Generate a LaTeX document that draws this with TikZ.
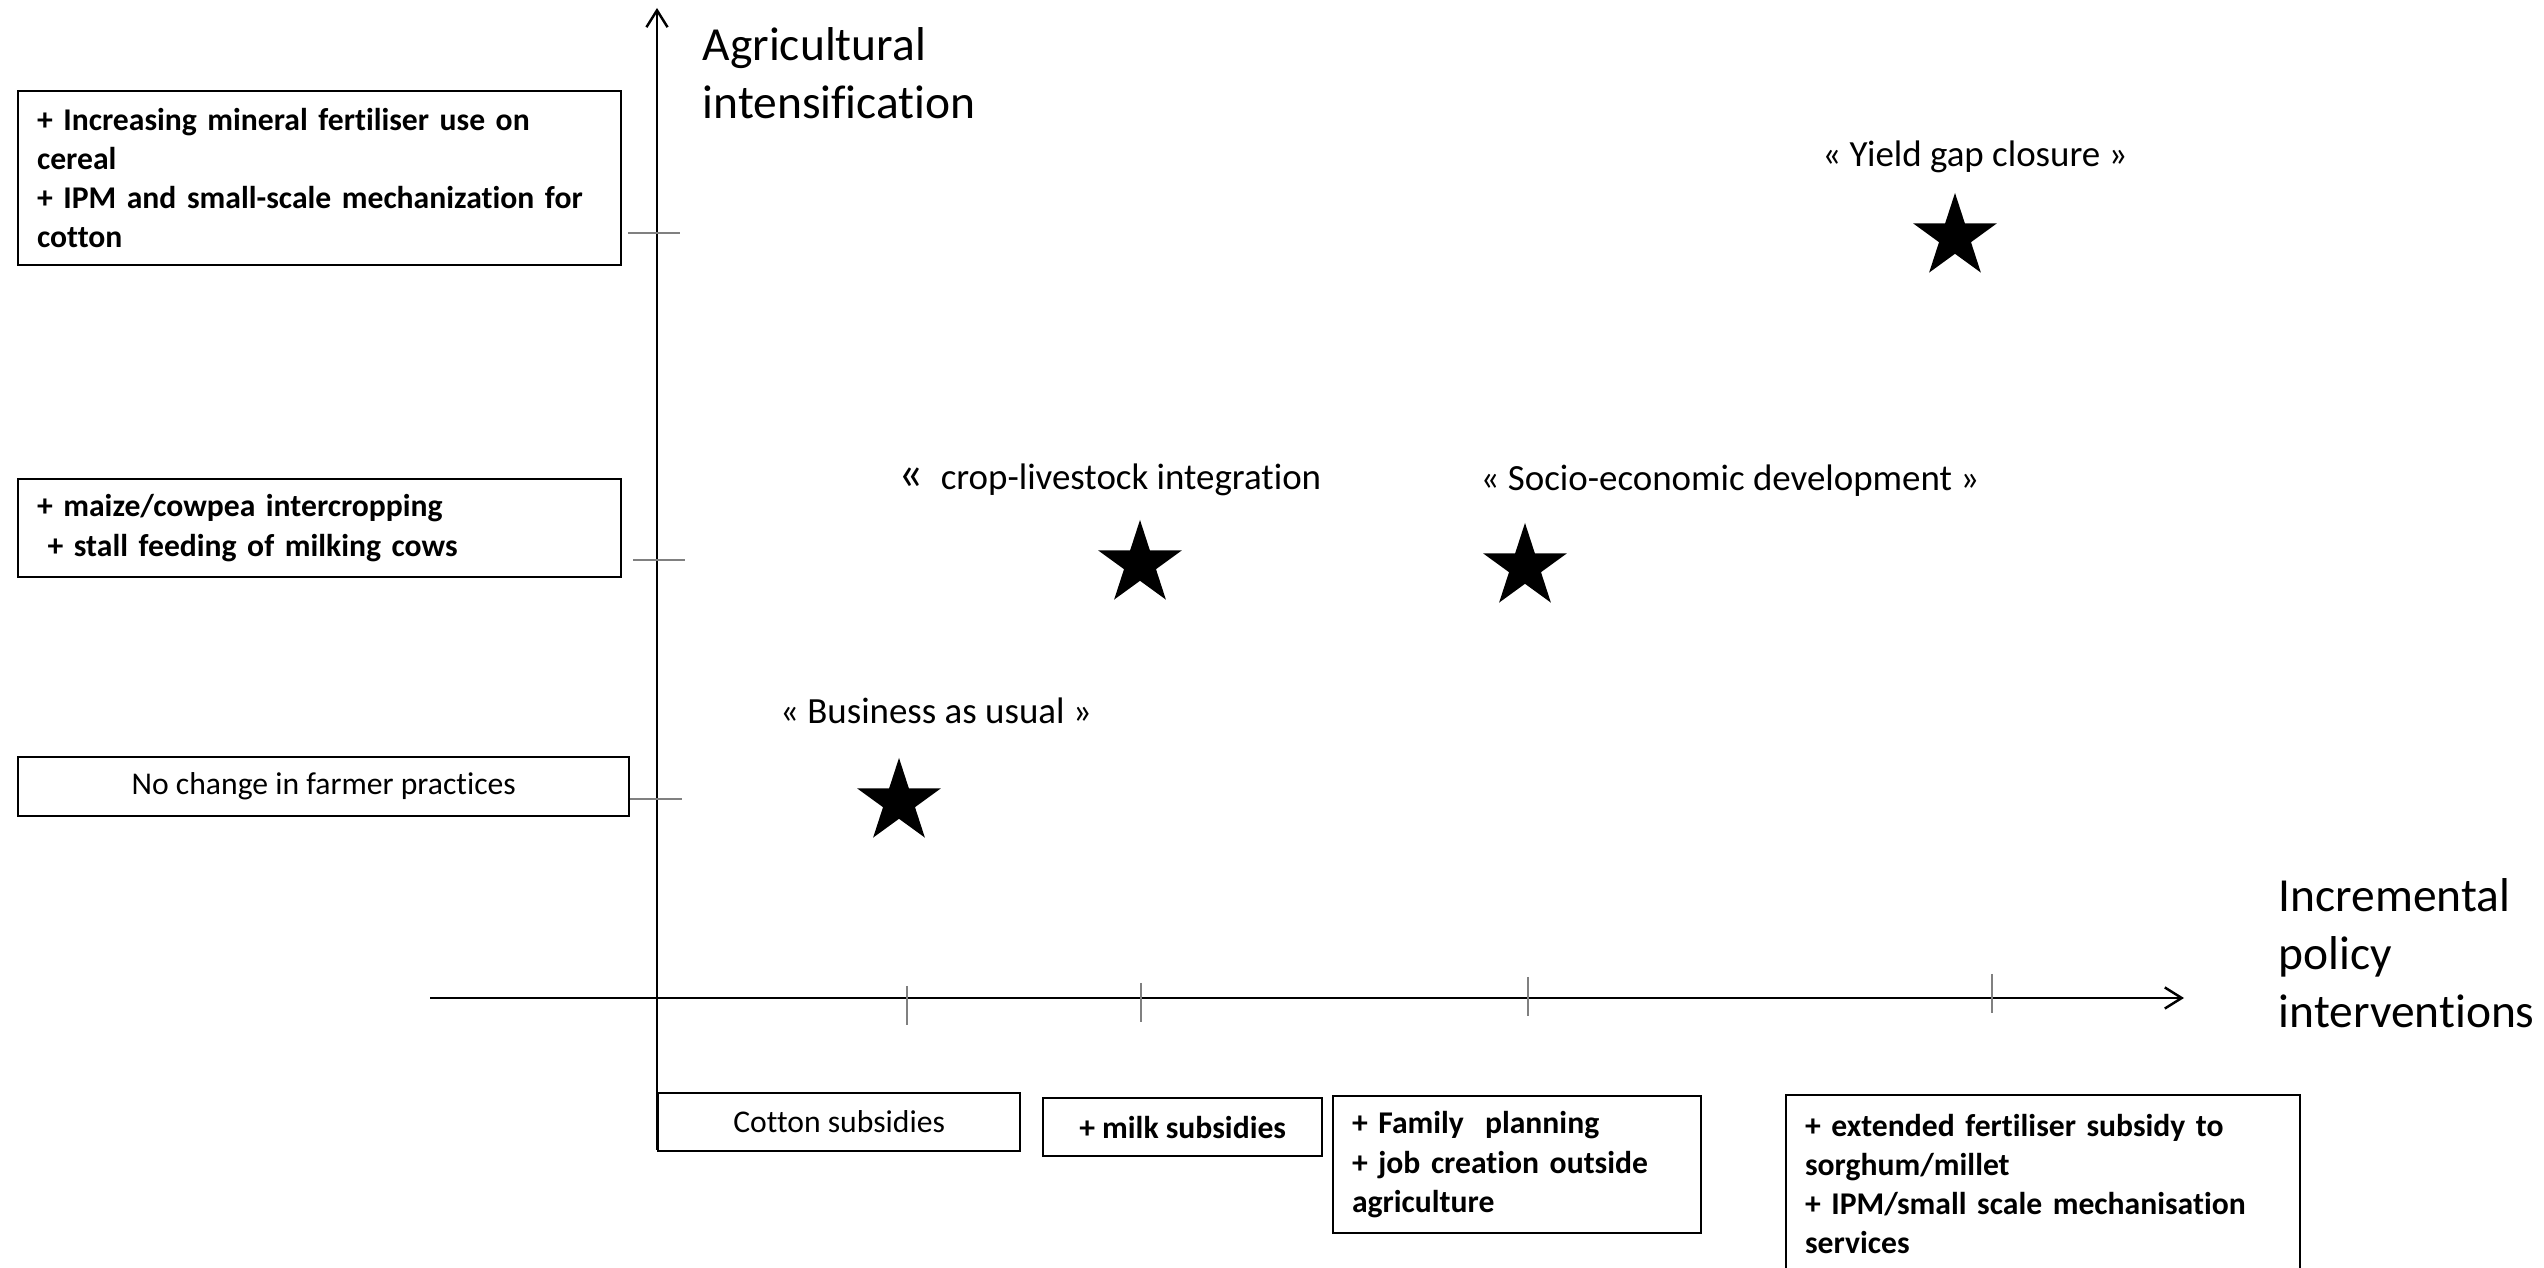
\documentclass[tikz,border=0pt]{standalone}
\usepackage{fontspec}
\setmainfont{Carlito}[Ligatures=NoCommon]
\usetikzlibrary{arrows.meta, positioning, shapes.geometric}

\tikzset{
  policybox/.style={draw, line width=0.6pt, inner xsep=0.19cm, inner ysep=0pt, align=left,
    font=\fontsize{9}{11.1}\selectfont\bfseries},
  plainbox/.style={policybox, align=center, font=\fontsize{9}{11.1}\selectfont},
  scenario/.style={inner sep=0pt, anchor=base, font=\fontsize{10.5}{13}\selectfont},
  axislabel/.style={inner sep=0pt, align=left, anchor=base west, font=\fontsize{13.5}{16.5}\selectfont},
  scenstar/.style={star, star points=5, star point ratio=2.618, fill=black, inner sep=0pt, minimum size=0.88cm},
  axistick/.style={gray, line width=0.6pt},
  axisline/.style={line width=0.7pt, -{Straight Barb[length=4.8pt,width=6pt]}}
}

\begin{document}
\begin{tikzpicture}[x=0.01cm, y=-0.01cm]
\useasboundingbox (0,0) rectangle (2544,1268);
\clip (0,0) rectangle (2544,1268);
% Axes
\coordinate (origin) at (657,998);
\coordinate (ytop) at (657,8);
\coordinate (ybottom) at (657,1150);
\coordinate (xleft) at (430,998);
\coordinate (xright) at (2184,998);
\draw[axisline] (ybottom) -- (ytop);
\draw[axisline] (xleft) -- (xright);
\node[axislabel] (ylabel) at (702,119) {Agricultural\\intensification};
\node[axislabel] (xlabel) at (2278,1028) {Incremental\\policy\\interventions};
% Ticks
\foreach \y/\xa in {233/628, 560/633, 799/630}
  \draw[axistick] (\xa,\y) -- +(52,0);
\foreach \x/\ya in {907/986, 1141/983, 1528/977, 1992/974}
  \draw[axistick] (\x,\ya) -- +(0,39);
% Farmer practices
\node[policybox, text width=5.65cm, minimum height=1.74cm, anchor=north west] (yhigh) at (17,90)
  {+ Increasing mineral fertiliser use on\\cereal\\+ IPM and small-scale mechanization for\\cotton};
\node[policybox, text width=5.65cm, minimum height=0.98cm, anchor=north west] (ymid) at (17,478)
  {+ maize/cowpea intercropping\\\ + stall feeding of milking cows};
\node[plainbox, minimum width=6.11cm, minimum height=0.59cm, anchor=north west] (ynone) at (17,756)
  {No change in farmer practices};
% Policies
\node[plainbox, minimum width=3.62cm, minimum height=0.58cm, anchor=north west] (xcotton) at (657,1092)
  {Cotton subsidies};
\node[policybox, align=center, minimum width=2.79cm, minimum height=0.58cm, anchor=north west] (xmilk) at (1042,1097)
  {+ milk subsidies};
\node[policybox, text width=3.30cm, minimum height=1.37cm, anchor=north west] (xfamily) at (1332,1095)
  {+ Family\ \ planning\\+ job creation outside\\agriculture};
\node[policybox, text width=4.76cm, minimum height=1.78cm, anchor=north west] (xfert) at (1785,1094)
  {+ extended fertiliser subsidy to\\sorghum/millet\\+ IPM/small scale mechanisation\\services};
% Scenarios
\node[scenstar] (sbau) at (899,802) {};
\node[scenstar] (scrop) at (1140,564) {};
\node[scenstar] (ssocio) at (1525,567) {};
\node[scenstar] (syield) at (1955,237) {};
\node[scenario] (lbau) at (936,724) {« Business as usual »};
\node[scenario] (lcrop) at (1110,490) {{\fontsize{14}{14}\selectfont «}\ \ crop-livestock integration};
\node[scenario] (lsocio) at (1730,491) {« Socio-economic development »};
\node[scenario] (lyield) at (1975,167) {« Yield gap closure »};
\end{tikzpicture}
\end{document}
